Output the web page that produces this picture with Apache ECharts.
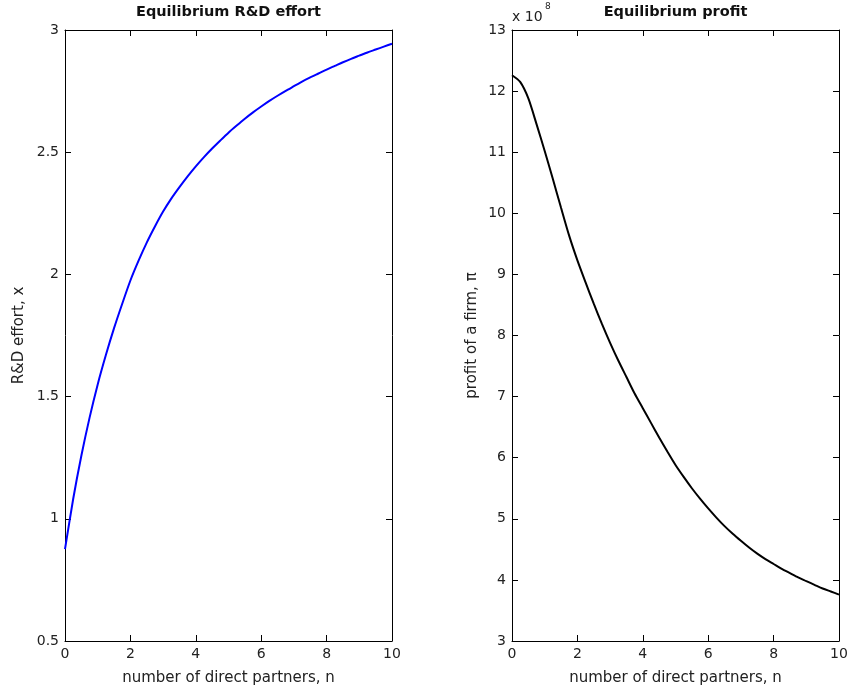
<!DOCTYPE html>
<html>
<head>
<meta charset="utf-8">
<script src="https://cdn.jsdelivr.net/npm/echarts@6/dist/echarts.min.js"></script>
<style>
html,body{margin:0;padding:0;background:#fff;}
#chart{width:851px;height:695px;}
</style>
</head>
<body>
<div id="chart"></div>
<script>
// ---- data ----
const partners = [0,0.25,0.5,0.75,1,1.25,1.5,1.75,2,2.25,2.5,2.75,3,3.25,3.5,3.75,4,4.25,4.5,4.75,5,5.25,5.5,5.75,6,6.25,6.5,6.75,7,7.25,7.5,7.75,8,8.25,8.5,8.75,9,9.25,9.5,9.75,10];
const rdEffort = [0.876,1.081,1.258,1.413,1.55,1.67,1.78,1.88,1.975,2.056,2.13,2.196,2.257,2.31,2.357,2.401,2.442,2.48,2.515,2.548,2.58,2.609,2.637,2.663,2.687,2.71,2.731,2.751,2.77,2.789,2.806,2.822,2.838,2.853,2.868,2.882,2.895,2.908,2.92,2.932,2.944];
const profit   = [12.26,12.15,11.88,11.46,11.02,10.56,10.09,9.63,9.23,8.87,8.52,8.19,7.88,7.59,7.32,7.05,6.81,6.57,6.33,6.10,5.88,5.685,5.50,5.33,5.17,5.02,4.88,4.755,4.64,4.53,4.43,4.34,4.26,4.18,4.11,4.04,3.98,3.92,3.86,3.81,3.76]; // x 10^8
const xTicks = [0,2,4,6,8,10];
const effortTicks = [0.5,1,1.5,2,2.5,3];
const profitTicks = [3,4,5,6,7,8,9,10,11,12,13];
const titles = ['Equilibrium R&D effort','Equilibrium profit'];
const xName = 'number of direct partners, n';
const yNames = ['R&D effort, x','profit of a firm, \u03c0'];

const FONT = 'DejaVu Sans';
const TXT = '#222';
const chart = echarts.init(document.getElementById('chart'), null, {renderer:'canvas'});

const effortData = partners.map((n,i)=>[n, rdEffort[i]]);
const profitData = partners.map((n,i)=>[n, profit[i]]);

function xAxes(gi){
  const base = {gridIndex:gi, type:'value', min:xTicks[0], max:xTicks[xTicks.length-1], interval:xTicks[1]-xTicks[0],
    splitLine:{show:false},
    axisLine:{show:true, onZero:false, lineStyle:{color:'#000', width:1}},
    axisTick:{show:true, inside:true, length:6, lineStyle:{color:'#000', width:1}}};
  return [
    Object.assign({}, base, {position:'bottom',
      axisLabel:{show:true, margin:6, color:TXT, fontSize:14, fontFamily:FONT},
      name:xName, nameLocation:'middle', nameGap:30,
      nameTextStyle:{color:TXT, fontSize:15, fontFamily:FONT}}),
    Object.assign({}, base, {position:'top', axisLabel:{show:false}})
  ];
}
function yAxes(gi, ticks, name, gap){
  const base = {gridIndex:gi, type:'value', min:ticks[0], max:ticks[ticks.length-1], interval:ticks[1]-ticks[0],
    splitLine:{show:false},
    axisLine:{show:true, onZero:false, lineStyle:{color:'#000', width:1}},
    axisTick:{show:true, inside:true, length:6, lineStyle:{color:'#000', width:1}}};
  return [
    Object.assign({}, base, {position:'left',
      axisLabel:{show:true, margin:6, color:TXT, fontSize:14, fontFamily:FONT},
      name:name, nameLocation:'middle', nameGap:gap, nameRotate:90,
      nameTextStyle:{color:TXT, fontSize:15, fontFamily:FONT}}),
    Object.assign({}, base, {position:'right', axisLabel:{show:false}})
  ];
}

const option = {
  animation:false,
  backgroundColor:'#fff',
  grid:[
    {left:65, top:30, width:327, height:611},
    {left:512, top:30, width:327, height:611}
  ],
  xAxis:[...xAxes(0), ...xAxes(1)],
  yAxis:[...yAxes(0, effortTicks, yNames[0], 38), ...yAxes(1, profitTicks, yNames[1], 32)],
  series:[
    {type:'line', xAxisIndex:0, yAxisIndex:0, data:effortData, smooth:0.25, showSymbol:false,
      lineStyle:{color:'#0000ff', width:2}},
    {type:'line', xAxisIndex:2, yAxisIndex:2, data:profitData, smooth:0.25, showSymbol:false,
      lineStyle:{color:'#000', width:2}}
  ],
  graphic:[
    {type:'text', x:228.5, y:12.5, style:{text:titles[0], fill:'#111', font:'bold 14.5px "DejaVu Sans"', textAlign:'center', textVerticalAlign:'middle'}},
    {type:'text', x:675.5, y:12.5, style:{text:titles[1], fill:'#111', font:'bold 14.5px "DejaVu Sans"', textAlign:'center', textVerticalAlign:'middle'}},
    {type:'text', x:512, y:17.5, style:{text:'x 10', fill:TXT, font:'14px "DejaVu Sans"', textAlign:'left', textVerticalAlign:'middle'}},
    {type:'text', x:545, y:7, style:{text:'8', fill:TXT, font:'9px "DejaVu Sans"', textAlign:'left', textVerticalAlign:'middle'}}
  ]
};
chart.setOption(option);
</script>
</body>
</html>
